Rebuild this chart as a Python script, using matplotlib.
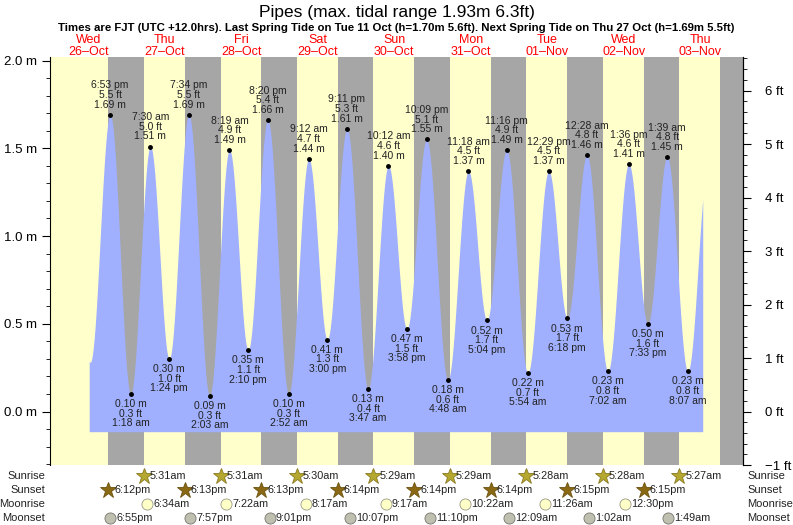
import numpy as np
import matplotlib
matplotlib.use("Agg")
import matplotlib.pyplot as plt
from matplotlib.patches import Rectangle

plt.rcParams["font.family"] = "Liberation Sans"

# ---- data (time in hours since Wed 26-Oct 00:00) ----
day_names = ["Wed", "Thu", "Fri", "Sat", "Sun", "Mon", "Tue", "Wed", "Thu"]
day_dates = ["26\u2013Oct", "27\u2013Oct", "28\u2013Oct", "29\u2013Oct", "30\u2013Oct",
             "31\u2013Oct", "01\u2013Nov", "02\u2013Nov", "03\u2013Nov"]

tide_day = [0, 1, 1, 1, 1, 2, 2, 2, 2, 3, 3, 3, 3, 4, 4, 4, 4, 5, 5, 5, 5, 6, 6, 6, 7, 7, 7, 7, 8, 8]
tide_time = ["6:53 pm", "1:18 am", "7:30 am", "1:24 pm", "7:34 pm",
             "2:03 am", "8:19 am", "2:10 pm", "8:20 pm",
             "2:52 am", "9:12 am", "3:00 pm", "9:11 pm",
             "3:47 am", "10:12 am", "3:58 pm", "10:09 pm",
             "4:48 am", "11:18 am", "5:04 pm", "11:16 pm",
             "5:54 am", "12:29 pm", "6:18 pm",
             "12:28 am", "7:02 am", "1:36 pm", "7:33 pm",
             "1:39 am", "8:07 am"]
tide_m = [1.69, 0.10, 1.51, 0.30, 1.69,
          0.09, 1.49, 0.35, 1.66,
          0.10, 1.44, 0.41, 1.61,
          0.13, 1.40, 0.47, 1.55,
          0.18, 1.37, 0.52, 1.49,
          0.22, 1.37, 0.53,
          1.46, 0.23, 1.41, 0.50,
          1.45, 0.23]
tide_ft = [5.5, 0.3, 5.0, 1.0, 5.5,
           0.3, 4.9, 1.1, 5.4,
           0.3, 4.7, 1.3, 5.3,
           0.4, 4.6, 1.5, 5.1,
           0.6, 4.5, 1.7, 4.9,
           0.7, 4.5, 1.7,
           4.8, 0.8, 4.6, 1.6,
           4.8, 0.8]
# unlabelled extremes just outside the drawn span (estimated)
edge_hours = [12.6, 206.5]
edge_m = [0.28, 1.40]
curve_start, curve_end = 12.3, 204.8

sunrise = ["5:31am", "5:31am", "5:30am", "5:29am", "5:29am", "5:28am", "5:28am", "5:27am"]  # days 1..8
sunset = ["6:12pm", "6:13pm", "6:13pm", "6:14pm", "6:14pm", "6:14pm", "6:15pm", "6:15pm", "6:15pm"]  # days 0..8
moonrise = ["6:34am", "7:22am", "8:17am", "9:17am", "10:22am", "11:26am", "12:30pm"]  # days 1..7
moonset_day = [0, 1, 2, 3, 4, 6, 7, 8]
moonset = ["6:55pm", "7:57pm", "9:01pm", "10:07pm", "11:10pm", "12:09am", "1:02am", "1:49am"]


def hrs(s):
    s = s.replace(" ", "")
    ap = s[-2:]
    h, m = s[:-2].split(":")
    h = int(h) % 12 + (12 if ap == "pm" else 0)
    return h + int(m) / 60


t_ext = [d * 24 + hrs(s) for d, s in zip(tide_day, tide_time)]
all_t = np.array([edge_hours[0]] + t_ext + [edge_hours[1]])
all_h = np.array([edge_m[0]] + tide_m + [edge_m[1]])

tt = np.linspace(curve_start, curve_end, 2000)
hh = np.empty_like(tt)
for i, t in enumerate(tt):
    k = np.searchsorted(all_t, t) - 1
    k = min(max(k, 0), len(all_t) - 2)
    f = (t - all_t[k]) / (all_t[k + 1] - all_t[k])
    hh[i] = all_h[k] + (all_h[k + 1] - all_h[k]) * (1 - np.cos(np.pi * f)) / 2

W, H = 793, 525
fig = plt.figure(figsize=(W / 100, H / 100), dpi=100)
ax = fig.add_axes([50 / W, 1 - 465 / H, 693 / W, 408 / H])
xmax = 9.06 * 24
ymin, ymax = -0.3048, 2.02
ax.set_xlim(0, xmax)
ax.set_ylim(ymin, ymax)

yellow, gray = "#ffffcc", "#a6a6a6"
ax.add_patch(Rectangle((0, ymin), xmax, ymax - ymin, color=yellow, zorder=0, lw=0))
sunset_h = [d * 24 + hrs(s) for d, s in enumerate(sunset)]
sunrise_h = [(d + 1) * 24 + hrs(s) for d, s in enumerate(sunrise)] + [xmax + 10]
for s0, s1 in zip(sunset_h, sunrise_h):
    ax.add_patch(Rectangle((s0, ymin), s1 - s0, ymax - ymin, color=gray, zorder=0.5, lw=0))

ax.fill_between(tt, -0.115, hh, color="#a0b0ff", lw=0, zorder=1)

txtc = "#222222"
for t, d, s, m, ft in zip(t_ext, tide_day, tide_time, tide_m, tide_ft):
    ax.plot(t, m, "o", color="black", ms=2.5, zorder=3)
    if m > 1.0:
        ax.text(t, m + 0.03, f"{s}\n{ft} ft\n{m:.2f} m", ha="center", va="bottom",
                fontsize=7.5, color=txtc, linespacing=0.95, zorder=4)
    else:
        ax.text(t, m - 0.03, f"{m:.2f} m\n{ft} ft\n{s}", ha="center", va="top",
                fontsize=7.5, color=txtc, linespacing=0.95, zorder=4)

ax.set_yticks([0, 0.5, 1.0, 1.5, 2.0])
ax.set_yticklabels([f"{v:.1f} m" for v in [0, 0.5, 1.0, 1.5, 2.0]], fontsize=9.5)
ax.set_yticks(np.arange(-0.3, 2.01, 0.1), minor=True)
ax.tick_params(axis="y", which="major", length=6, direction="out")
ax.tick_params(axis="y", which="minor", length=3, direction="out")
ax.set_xticks([])
for sp in ["top", "bottom"]:
    ax.spines[sp].set_visible(False)

ax2 = ax.twinx()
ax2.set_ylim(ymin / 0.3048, ymax / 0.3048)
ax2.set_yticks(range(-1, 7))
ax2.set_yticklabels(["\u22121 ft"] + [f"{v} ft" for v in range(0, 7)], fontsize=9.5)
ax2.set_yticks(np.arange(-1, 6.61, 0.2), minor=True)
ax2.tick_params(axis="y", which="major", length=6, direction="out", pad=10)
ax2.tick_params(axis="y", which="minor", length=3, direction="out")
for sp in ["top", "bottom", "left"]:
    ax2.spines[sp].set_visible(False)
ax2.set_xticks([])

# titles
fig.text(0.5, 1 - 12 / H, "Pipes (max. tidal range 1.93m 6.3ft)", ha="center", va="center", fontsize=12.5)
fig.text(0.5, 1 - 28 / H,
         "Times are FJT (UTC +12.0hrs). Last Spring Tide on Tue 11 Oct (h=1.70m 5.6ft). Next Spring Tide on Thu 27 Oct (h=1.69m 5.5ft)",
         ha="center", va="center", fontsize=8.2, fontweight="bold")
for d, (n, dt) in enumerate(zip(day_names, day_dates)):
    x = (50 + (d * 24 + 12) / xmax * 693) / W
    fig.text(x, 1 - 40 / H, n, ha="center", va="center", fontsize=9, color="red")
    fig.text(x, 1 - 52 / H, dt, ha="center", va="center", fontsize=9, color="red")

# astro rows
def xfig(h):
    return (50 + h / xmax * 693) / W

rows = {"Sunrise": 476, "Sunset": 490, "Moonrise": 504, "Moonset": 518}
for name, y in rows.items():
    fig.text(45 / W, 1 - y / H, name, ha="right", va="center", fontsize=8, color="#222222")
    fig.text(747 / W, 1 - y / H, name, ha="left", va="center", fontsize=8, color="#222222")


def marker(h, y, label, **kw):
    fig.add_artist(plt.Line2D([xfig(h)], [1 - y / H], transform=fig.transFigure, **kw))
    fig.text(xfig(h) + 6 / W, 1 - y / H, label, ha="left", va="center", fontsize=7.8, color="#222222")


for d, s in enumerate(sunrise):
    h = (d + 1) * 24 + hrs(s)
    if h < xmax:
        marker(h, 476, s, marker="*", ms=12, color="#b5a830", mec="#8a7a20", mew=0.6)
for d, s in enumerate(sunset[:8]):
    marker(d * 24 + hrs(s), 490, s, marker="*", ms=12, color="#8b6914", mec="#6b5010", mew=0.6)
for d, s in enumerate(moonrise):
    marker((d + 1) * 24 + hrs(s), 504, s, marker="o", ms=8, color="#ffffc8", mec="#999988", mew=0.6)
for d, s in zip(moonset_day, moonset):
    marker(d * 24 + hrs(s), 518, s, marker="o", ms=8, color="#c0c0b0", mec="#777770", mew=0.6)

fig.savefig("out.png", dpi=100)
